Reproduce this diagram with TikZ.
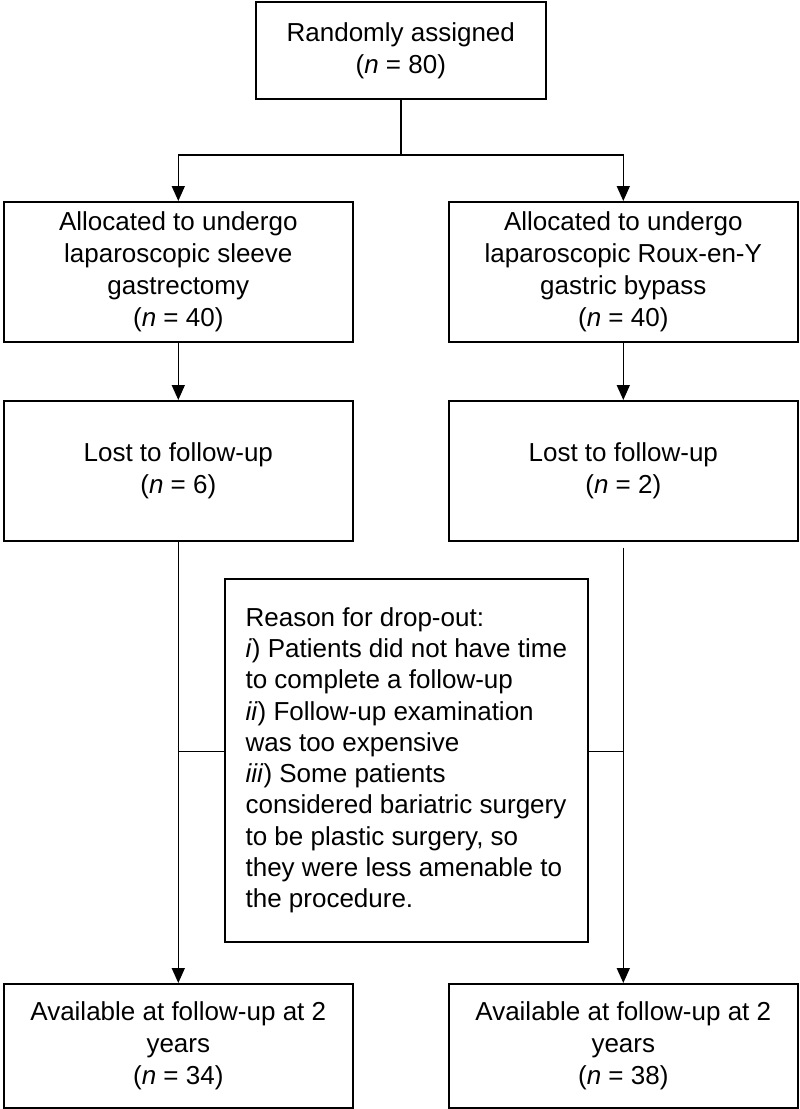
\documentclass[tikz,border=0pt]{standalone}
\usepackage{fontspec}
\setmainfont{Liberation Sans}
\usetikzlibrary{arrows.meta}
\begin{document}
\begin{tikzpicture}[x=1pt,y=-1pt,
  box/.style={draw, line width=1.6pt, align=center, font=\fontsize{26}{32}\selectfont, inner sep=0pt, anchor=north west},
  ln/.style={line width=1.6pt},
  arr/.style={ln, -{Triangle[width=13pt,length=15pt]}}]
\useasboundingbox (0,0) rectangle (800,1109);
\node[box, minimum width=290pt, minimum height=97pt] (rand) at (255,1) {Randomly assigned\\(\textit{n} = 80)};
\node[box, minimum width=349pt, minimum height=140pt] (allocL) at (3,201) {Allocated to undergo\\laparoscopic sleeve\\gastrectomy\\(\textit{n} = 40)};
\node[box, minimum width=349pt, minimum height=140pt] (allocR) at (448,201) {Allocated to undergo\\laparoscopic Roux-en-Y\\gastric bypass\\(\textit{n} = 40)};
\node[box, minimum width=349pt, minimum height=140pt] (lostL) at (3,400) {Lost to follow-up\\(\textit{n} = 6)};
\node[box, minimum width=349pt, minimum height=140pt] (lostR) at (448,400) {Lost to follow-up\\(\textit{n} = 2)};
\node[box, align=left, font=\fontsize{26}{31.3}\selectfont, minimum width=363pt, minimum height=363pt] (reason) at (224,578) {Reason for drop-out:\\\textit{i}) Patients did not have time\\to complete a follow-up\\\textit{ii}) Follow-up examination\\was too expensive\\\textit{iii}) Some patients\\considered bariatric surgery\\to be plastic surgery, so\\they were less amenable to\\the procedure.};
\node[box, minimum width=349pt, minimum height=124pt] (availL) at (3,983) {Available at follow-up at 2\\years\\(\textit{n} = 34)};
\node[box, minimum width=349pt, minimum height=124pt] (availR) at (448,983) {Available at follow-up at 2\\years\\(\textit{n} = 38)};
\coordinate (split) at (rand.south |- 0,155);
\draw[ln] (rand.south) -- (split);
\draw[arr] (split) -| (allocL.north);
\draw[arr] (split) -| (allocR.north);
\draw[arr] (allocL.south) -- (lostL.north);
\draw[arr] (allocR.south) -- (lostR.north);
\draw[arr] (lostL.south) -- (availL.north);
\draw[arr, shorten <=6pt] (lostR.south) -- (availR.north);
\draw[ln] ([yshift=9pt]reason.west) -- ([yshift=9pt]reason.west -| lostL.south);
\draw[ln] ([yshift=9pt]reason.east) -- ([yshift=9pt]reason.east -| lostR.south);
\end{tikzpicture}
\end{document}
